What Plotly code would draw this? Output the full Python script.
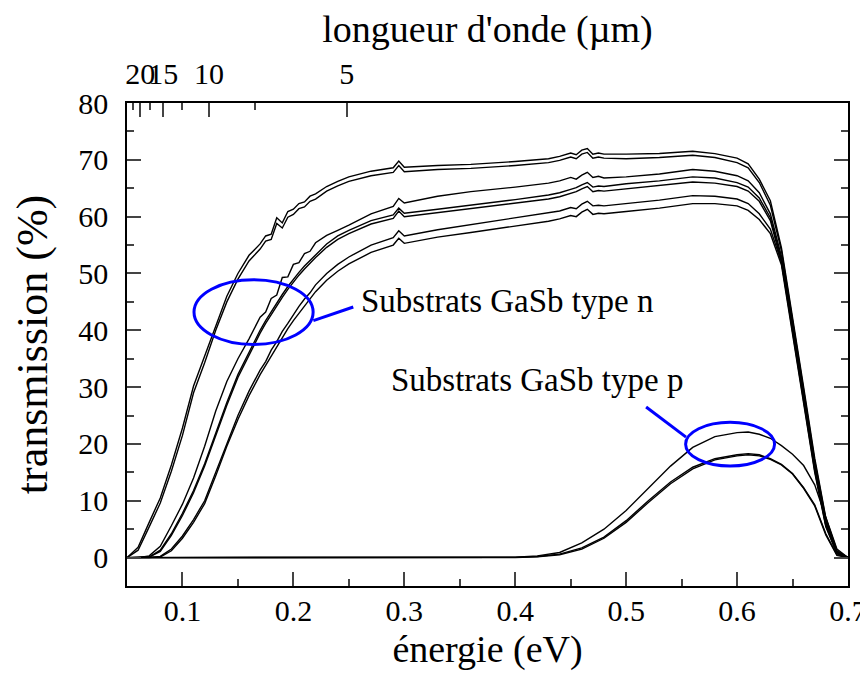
import plotly.graph_objects as go

# energy grid (eV) shared by the n-type spectra
E_n = [0.05, 0.06, 0.07, 0.08, 0.09, 0.10, 0.11, 0.12, 0.13, 0.14,
       0.15, 0.16, 0.17, 0.175, 0.18, 0.185, 0.19, 0.195, 0.20, 0.205,
       0.21, 0.215, 0.22, 0.23, 0.24, 0.25, 0.27, 0.29, 0.295, 0.30,
       0.33, 0.36, 0.40, 0.43, 0.44, 0.45, 0.455, 0.46, 0.465, 0.47,
       0.475, 0.48, 0.50, 0.53, 0.56, 0.58, 0.60, 0.61, 0.62, 0.63,
       0.64, 0.65, 0.66, 0.67, 0.68, 0.69, 0.70]

# transmission (%) of the n-type substrates
n_a1 = [0, 1.8, 6.2, 10.5, 16.3, 22.8, 30.2, 35.5, 41, 46,
        50, 53.2, 55.2, 56.6, 56.9, 59.8, 58.9, 60.9, 61.3, 62.3,
        62.6, 63.6, 64.0, 65.3, 66.2, 67.0, 68.0, 68.6, 69.8, 68.7,
        69.0, 69.2, 69.7, 70.2, 70.6, 71.2, 70.9, 71.7, 72.0, 71.0,
        71.2, 71.0, 71.0, 71.1, 71.5, 71.1, 70.3, 69.3, 66.6, 62.8,
        54.5, 42.5, 30, 17.5, 7, 1.2, 0]
n_a2 = [0, 1.3, 5.4, 9.6, 15.2, 21.5, 29.0, 34.3, 40.0, 45.0,
        49.0, 52.2, 54.3, 55.7, 56.0, 58.8, 58.0, 59.9, 60.4, 61.4,
        61.7, 62.7, 63.1, 64.5, 65.4, 66.2, 67.2, 67.8, 69.0, 67.9,
        68.3, 68.5, 69.0, 69.5, 69.9, 70.5, 70.2, 71.0, 71.3, 70.3,
        70.5, 70.3, 70.2, 70.4, 70.8, 70.4, 69.5, 68.6, 66.0, 62.0,
        54.0, 42.0, 29.5, 17.0, 6.8, 1.1, 0]
n_b1 = [0, 0, 0.3, 2.0, 5.6, 9.4, 14.0, 19.6, 25.8, 31,
        35, 38.5, 42.3, 43.2, 45.6, 46.2, 49.3, 49.4, 51.6, 51.9,
        53.5, 53.9, 55.4, 56.7, 57.6, 58.5, 60.5, 61.8, 63.2, 62.4,
        63.6, 64.4, 65.2, 65.9, 66.3, 66.9, 66.6, 67.3, 67.8, 66.9,
        67.1, 66.8, 67.0, 67.5, 68.3, 68.0, 67.2, 66.3, 64.2, 60.5,
        53, 41.5, 29, 16.5, 6.3, 1.0, 0]
n_b2 = [0, 0, 0.1, 1.3, 4.2, 7.8, 11.8, 16.5, 22, 27.3,
        32.2, 36.2, 40, 41.7, 43.3, 44.8, 46.3, 47.7, 49, 50.2,
        51.3, 52.3, 53.3, 55.2, 56.6, 57.6, 59.3, 60.3, 61.5, 60.6,
        61.3, 62.0, 63.0, 63.8, 64.2, 64.8, 65.1, 65.6, 66.0, 65.2,
        65.4, 65.3, 65.8, 66.3, 67.0, 66.8, 66.0, 65.2, 63.3, 59.8,
        52.5, 41, 28.5, 16, 6, 0.9, 0]
n_b3 = [0, 0, 0.1, 1.1, 3.9, 7.4, 11.4, 16.1, 21.5, 26.8,
        31.7, 35.7, 39.5, 41.2, 42.8, 44.3, 45.8, 47.2, 48.5, 49.7,
        50.8, 51.8, 52.8, 54.6, 56.0, 57.0, 58.7, 59.7, 61.0, 60.0,
        60.7, 61.4, 62.4, 63.1, 63.5, 64.1, 64.4, 64.9, 65.3, 64.4,
        64.6, 64.5, 64.9, 65.4, 66.1, 65.9, 65.3, 64.5, 62.7, 59.3,
        52, 40.5, 28, 15.7, 5.8, 0.8, 0]
n_c1 = [0, 0, 0, 0.2, 1.5, 3.8, 6.7, 10, 15, 20.3,
        25, 29.3, 33, 34.5, 36.5, 38.0, 39.8, 41.2, 42.8, 44.2,
        45.5, 46.6, 48, 50, 51.6, 52.9, 55, 56.3, 57.5, 56.6,
        57.7, 58.6, 59.7, 60.6, 61.0, 61.6, 61.4, 62.2, 62.7, 61.9,
        62.0, 61.9, 62.3, 62.9, 63.7, 63.6, 63.1, 62.3, 60.5, 57.8,
        52, 40, 27.5, 15.3, 5.6, 0.8, 0]
n_c2 = [0, 0, 0, 0.1, 1.2, 3.4, 6.2, 9.5, 14.4, 19.6,
        24.3, 28.5, 32.2, 33.8, 35.6, 37.2, 38.8, 40.3, 41.7, 43.0,
        44.3, 45.5, 46.8, 48.8, 50.4, 51.7, 53.7, 55.0, 56.2, 55.3,
        56.4, 57.2, 58.3, 59.2, 59.6, 60.2, 60.0, 60.8, 61.3, 60.4,
        60.6, 60.5, 60.9, 61.5, 62.3, 62.3, 61.9, 61.1, 59.5, 57.0,
        51.5, 39.5, 27, 15, 5.4, 0.7, 0]

# p-type substrates
E_p = [0.05, 0.10, 0.20, 0.30, 0.38, 0.40, 0.42, 0.44, 0.46, 0.48,
       0.50, 0.52, 0.54, 0.56, 0.58, 0.60, 0.61, 0.62, 0.63, 0.64,
       0.65, 0.66, 0.67, 0.68, 0.69, 0.70]
p_1 = [0, 0, 0, 0, 0, 0.05, 0.3, 0.9, 2.6, 5.0,
       8.3, 12.2, 16.1, 19.4, 21.3, 22.0, 22.1, 21.7, 21.0, 19.7,
       18.2, 16.2, 12.8, 7.1, 1.5, 0]
p_2 = [0, 0, 0, 0, 0, 0.03, 0.2, 0.6, 1.7, 3.6,
       6.5, 10.0, 13.3, 15.9, 17.4, 18.1, 18.3, 18.1, 17.4, 16.4,
       14.8, 12.3, 9.3, 4.2, 0.5, 0]
p_3 = [0, 0, 0, 0, 0, 0.02, 0.15, 0.5, 1.5, 3.4,
       6.2, 9.7, 13.0, 15.6, 17.2, 17.9, 18.1, 17.9, 17.3, 16.3,
       14.7, 12.2, 9.1, 4.0, 0.4, 0]

# top axis: wavelength (um)
wl_major = [20, 15, 10, 5]
wl_minor = [22.5, 17.5, 12.5, 7.5]

FONT = "Liberation Serif"
BLUE = "#0000ff"

fig = go.Figure()
for y in [n_a1, n_a2, n_b1, n_b2, n_b3, n_c1, n_c2]:
    fig.add_trace(go.Scatter(x=E_n, y=y, mode="lines",
                             line=dict(color="black", width=1.4),
                             showlegend=False, hoverinfo="skip"))
for y in [p_1, p_2, p_3]:
    fig.add_trace(go.Scatter(x=E_p, y=y, mode="lines",
                             line=dict(color="black", width=1.4),
                             showlegend=False, hoverinfo="skip"))
# invisible trace so the wavelength axis gets drawn
fig.add_trace(go.Scatter(x=E_p, y=p_1, xaxis="x2", mode="lines",
                         line=dict(width=0), opacity=0,
                         showlegend=False, hoverinfo="skip"))

# ellipses and pointers
fig.add_shape(type="circle", xref="x", yref="y", x0=0.1104, x1=0.2178,
              y0=37.5, y1=48.9, line=dict(color=BLUE, width=3))
fig.add_shape(type="line", xref="x", yref="y", x0=0.218, y0=41.7,
              x1=0.254, y1=44.1, line=dict(color=BLUE, width=3))
fig.add_shape(type="circle", xref="x", yref="y", x0=0.5536, x1=0.6338,
              y0=16.1, y1=23.8, line=dict(color=BLUE, width=3))
fig.add_shape(type="line", xref="x", yref="y", x0=0.554, y0=21.2,
              x1=0.518, y1=26.5, line=dict(color=BLUE, width=3))

fig.add_annotation(x=0.259, y=45.2, xref="x", yref="y", xanchor="left",
                   text="Substrats GaSb type n", showarrow=False,
                   font=dict(family=FONT, size=33, color="black"))
fig.add_annotation(x=0.286, y=31.2, xref="x", yref="y", xanchor="left",
                   text="Substrats GaSb type p", showarrow=False,
                   font=dict(family=FONT, size=33, color="black"))

# page body adds 8px, so the figure is a bit smaller than the window
fig.update_layout(
    width=860, height=671,
    margin=dict(l=119, r=20, t=95, b=93),
    paper_bgcolor="white", plot_bgcolor="white",
    font=dict(family=FONT, size=30, color="black"),
    xaxis=dict(range=[0.05, 0.7], dtick=0.1, tick0=0, ticks="inside",
               ticklen=14, tickwidth=1.5, showline=True, linecolor="black",
               linewidth=1.5, mirror=True, showgrid=False, zeroline=False,
               tickangle=0, ticklabelstandoff=-3, automargin=False,
               minor=dict(dtick=0.05, tick0=0, ticks="inside", ticklen=7,
                          tickwidth=1.5),
               title=dict(text="énergie (eV)", font=dict(size=38), standoff=10)),
    xaxis2=dict(overlaying="x", side="top", range=[0.05, 0.7],
                tickmode="array", tickvals=[1.24 / w for w in wl_major],
                ticktext=[str(w) for w in wl_major], ticks="inside",
                ticklen=14, tickwidth=1.5, showline=False, showgrid=False,
                zeroline=False, tickangle=0, ticklabelstandoff=12,
                automargin=False,
                minor=dict(tickmode="array",
                           tickvals=[1.24 / w for w in wl_minor],
                           ticks="inside", ticklen=7, tickwidth=1.5),
                title=dict(text="longueur d'onde (µm)", font=dict(size=38),
                           standoff=4)),
    yaxis=dict(range=[-5, 80], dtick=10, tick0=0, ticks="inside",
               ticklen=14, tickwidth=1.5, showline=True, linecolor="black",
               linewidth=1.5, mirror="ticks", showgrid=False, zeroline=False,
               ticklabelstandoff=11, automargin=False,
               minor=dict(dtick=5, tick0=0, ticks="inside", ticklen=7,
                          tickwidth=1.5),
               title=dict(text="transmission (%)", font=dict(size=44), standoff=20)),
)

fig.write_html("out.html")
